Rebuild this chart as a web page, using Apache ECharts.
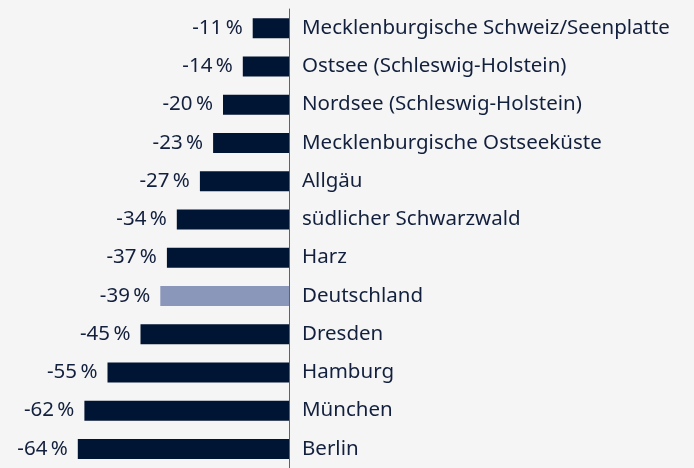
<!DOCTYPE html>
<html>
<head>
<meta charset="utf-8">
<script src="https://cdn.jsdelivr.net/npm/echarts@6/dist/echarts.min.js"></script>
<style>
  html, body { margin: 0; padding: 0; background: #f5f5f5; }
  #chart { width: 694px; height: 468px; }
</style>
</head>
<body>
<div id="chart"></div>
<script>
// Regionen und Veränderung in %
const regions = [
  'Mecklenburgische Schweiz/Seenplatte',
  'Ostsee (Schleswig-Holstein)',
  'Nordsee (Schleswig-Holstein)',
  'Mecklenburgische Ostseeküste',
  'Allgäu',
  'südlicher Schwarzwald',
  'Harz',
  'Deutschland',
  'Dresden',
  'Hamburg',
  'München',
  'Berlin'
];
const changes = [-11, -14, -20, -23, -27, -34, -37, -39, -45, -55, -62, -64];
const highlight = 'Deutschland';

const barColor = '#001533';
const highlightColor = '#8a97bb';
const textColor = '#13203d';

const chart = echarts.init(document.getElementById('chart'));

const option = {
  backgroundColor: '#f5f5f5',
  animation: false,
  grid: { left: 25, right: 405, top: 9, height: 464 },
  xAxis: {
    type: 'value',
    min: -80,
    max: 0,
    show: false
  },
  yAxis: {
    type: 'category',
    data: regions,
    inverse: true,
    position: 'right',
    axisLine: { show: true, lineStyle: { color: '#5b6274', width: 1 } },
    axisTick: { show: false },
    axisLabel: {
      margin: 13,
      color: textColor,
      fontFamily: 'Noto Sans',
      fontSize: 20.5
    }
  },
  series: [{
    type: 'bar',
    barWidth: 20,
    data: changes.map((v, i) => ({
      value: v,
      itemStyle: { color: regions[i] === highlight ? highlightColor : barColor }
    })),
    label: {
      show: true,
      position: 'left',
      distance: 10,
      color: textColor,
      fontFamily: 'Noto Sans',
      fontSize: 20.5,
      formatter: p => p.value + '\u2009%'
    }
  }]
};

chart.setOption(option);
</script>
</body>
</html>
